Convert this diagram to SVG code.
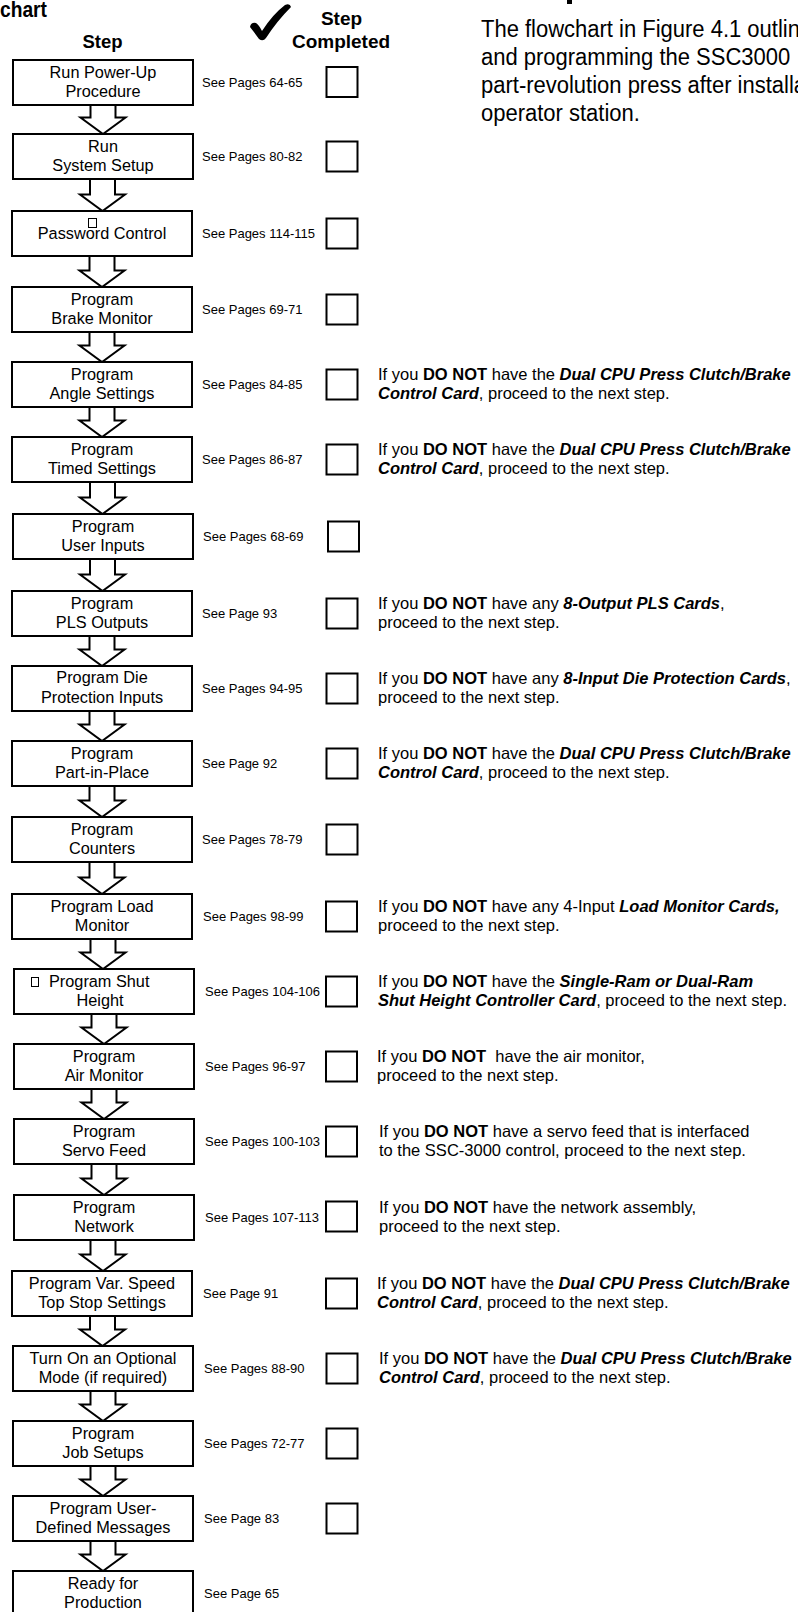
<svg xmlns="http://www.w3.org/2000/svg" width="798" height="1612" viewBox="0 0 798 1612">
<style>
text{font-family:"Liberation Sans",Arial,Helvetica,sans-serif;fill:#000}
.box{fill:#fff;stroke:#000;stroke-width:2}
.chk{fill:#fff;stroke:#000;stroke-width:2}
.tofu{fill:none;stroke:#000;stroke-width:1}
.arr{fill:#fff;stroke:#000;stroke-width:2;stroke-linejoin:miter}
.lbl{font-size:16.3px;text-anchor:middle}
.pg{font-size:13px}
.nt{font-size:16.5px}
.b{font-weight:bold}
.bi{font-weight:bold;font-style:italic}
.hd{font-weight:bold;text-anchor:middle}
.para{font-size:24.5px}
</style>
<rect width="798" height="1612" fill="#fff"/>
<g id="header">
<text x="0" y="16.5" class="b" font-size="22" textLength="47" lengthAdjust="spacingAndGlyphs">chart</text>
<path d="M250,27 Q251,22 256,23 Q259,25 262,31 Q273,14 285,5 Q290,3 291,7 Q277,21 266,38 Q263,42 259,39 Q254,32 250,27 Z" fill="#000"/>
<text x="341.5" y="25" class="hd" font-size="19">Step</text>
<text x="341" y="48" class="hd" font-size="19">Completed</text>
<text x="102.5" y="48" class="hd" font-size="18.5">Step</text>
<rect x="567" y="0" width="5" height="4" fill="#000"/>
<text class="para" transform="translate(481,36.5) scale(0.898,1)">The flowchart in Figure 4.1 outlin</text>
<text class="para" transform="translate(481,65) scale(0.898,1)">and programming the SSC3000</text>
<text class="para" transform="translate(481,93) scale(0.898,1)">part-revolution press after installa</text>
<text class="para" transform="translate(481,121) scale(0.898,1)">operator station.</text>
</g>
<g id="connectors">
<path class="arr" d="M90.5,104 V117.5 H80.5 L103,134 L125.5,117.5 H115.5 V104"/>
<path class="arr" d="M90,178 V194.5 H80 L102.5,211 L125,194.5 H115 V178"/>
<path class="arr" d="M89.5,255 V270.5 H79.5 L102,287 L124.5,270.5 H114.5 V255"/>
<path class="arr" d="M89.5,331 V345.5 H79.5 L102,362 L124.5,345.5 H114.5 V331"/>
<path class="arr" d="M89.5,406 V420.5 H79.5 L102,437 L124.5,420.5 H114.5 V406"/>
<path class="arr" d="M90,481 V497.5 H80 L102.5,514 L125,497.5 H115 V481"/>
<path class="arr" d="M90,558 V574.5 H80 L102.5,591 L125,574.5 H115 V558"/>
<path class="arr" d="M89.5,635 V649.5 H79.5 L102,666 L124.5,649.5 H114.5 V635"/>
<path class="arr" d="M89.5,710 V724.5 H79.5 L102,741 L124.5,724.5 H114.5 V710"/>
<path class="arr" d="M89.5,785 V800.5 H79.5 L102,817 L124.5,800.5 H114.5 V785"/>
<path class="arr" d="M89.5,861 V877.5 H79.5 L102,894 L124.5,877.5 H114.5 V861"/>
<path class="arr" d="M90.5,938 V952.5 H80.5 L103,969 L125.5,952.5 H115.5 V938"/>
<path class="arr" d="M91.5,1013 V1027.5 H81.5 L104,1044 L126.5,1027.5 H116.5 V1013"/>
<path class="arr" d="M91.5,1088 V1102.5 H81.5 L104,1119 L126.5,1102.5 H116.5 V1088"/>
<path class="arr" d="M91.5,1163 V1178.5 H81.5 L104,1195 L126.5,1178.5 H116.5 V1163"/>
<path class="arr" d="M90.5,1239 V1254.5 H80.5 L103,1271 L125.5,1254.5 H115.5 V1239"/>
<path class="arr" d="M90,1315 V1329.5 H80 L102.5,1346 L125,1329.5 H115 V1315"/>
<path class="arr" d="M90.5,1390 V1404.5 H80.5 L103,1421 L125.5,1404.5 H115.5 V1390"/>
<path class="arr" d="M90.5,1465 V1479.5 H80.5 L103,1496 L125.5,1479.5 H115.5 V1465"/>
<path class="arr" d="M90.5,1540 V1554.5 H80.5 L103,1571 L125.5,1554.5 H115.5 V1540"/>
</g>
<g id="step-01">
<rect class="box" x="13" y="60" width="180" height="45"/>
<text class="lbl" x="103" y="77.5">Run Power-Up</text>
<text class="lbl" x="103" y="97">Procedure</text>
<text class="pg" x="202" y="86.5">See Pages 64-65</text>
<rect class="chk" x="326.5" y="67" width="31" height="30"/>
</g>
<g id="step-02">
<rect class="box" x="13" y="134" width="180" height="45"/>
<text class="lbl" x="103" y="151.5">Run</text>
<text class="lbl" x="103" y="171">System Setup</text>
<text class="pg" x="202" y="160.5">See Pages 80-82</text>
<rect class="chk" x="326.5" y="141.5" width="31" height="30"/>
</g>
<g id="step-03">
<rect class="box" x="12" y="211" width="180" height="45"/>
<rect class="tofu" x="88.5" y="218.5" width="8" height="9"/>
<text class="lbl" x="102" y="239">Password Control</text>
<text class="pg" x="202" y="237.5">See Pages 114-115</text>
<rect class="chk" x="326.5" y="218.5" width="31" height="30"/>
</g>
<g id="step-04">
<rect class="box" x="12" y="287" width="180" height="45"/>
<text class="lbl" x="102" y="304.5">Program</text>
<text class="lbl" x="102" y="324">Brake Monitor</text>
<text class="pg" x="202" y="313.5">See Pages 69-71</text>
<rect class="chk" x="326.5" y="294.5" width="31" height="30"/>
</g>
<g id="step-05">
<rect class="box" x="12" y="362" width="180" height="45"/>
<text class="lbl" x="102" y="379.5">Program</text>
<text class="lbl" x="102" y="399">Angle Settings</text>
<text class="pg" x="202" y="388.5">See Pages 84-85</text>
<rect class="chk" x="326.5" y="369.5" width="31" height="30"/>
<text class="nt" x="378" y="379.5">If you <tspan class="b">DO NOT</tspan> have the <tspan class="bi">Dual CPU Press Clutch/Brake</tspan></text>
<text class="nt" x="378" y="399"><tspan class="bi">Control Card</tspan>, proceed to the next step.</text>
</g>
<g id="step-06">
<rect class="box" x="12" y="437" width="180" height="45"/>
<text class="lbl" x="102" y="454.5">Program</text>
<text class="lbl" x="102" y="474">Timed Settings</text>
<text class="pg" x="202" y="463.5">See Pages 86-87</text>
<rect class="chk" x="326.5" y="444.5" width="31" height="30"/>
<text class="nt" x="378" y="454.5">If you <tspan class="b">DO NOT</tspan> have the <tspan class="bi">Dual CPU Press Clutch/Brake</tspan></text>
<text class="nt" x="378" y="474"><tspan class="bi">Control Card</tspan>, proceed to the next step.</text>
</g>
<g id="step-07">
<rect class="box" x="13" y="514" width="180" height="45"/>
<text class="lbl" x="103" y="531.5">Program</text>
<text class="lbl" x="103" y="551">User Inputs</text>
<text class="pg" x="203" y="540.5">See Pages 68-69</text>
<rect class="chk" x="328" y="521.5" width="31" height="30"/>
</g>
<g id="step-08">
<rect class="box" x="12" y="591" width="180" height="45"/>
<text class="lbl" x="102" y="608.5">Program</text>
<text class="lbl" x="102" y="628">PLS Outputs</text>
<text class="pg" x="202" y="617.5">See Page 93</text>
<rect class="chk" x="326.5" y="598.5" width="31" height="30"/>
<text class="nt" x="378" y="608.5">If you <tspan class="b">DO NOT</tspan> have any <tspan class="bi">8-Output PLS Cards</tspan>,</text>
<text class="nt" x="378" y="628">proceed to the next step.</text>
</g>
<g id="step-09">
<rect class="box" x="12" y="666" width="180" height="45"/>
<text class="lbl" x="102" y="683">Program Die</text>
<text class="lbl" x="102" y="702.5">Protection Inputs</text>
<text class="pg" x="202" y="692.5">See Pages 94-95</text>
<rect class="chk" x="326.5" y="673.5" width="31" height="30"/>
<text class="nt" x="378" y="683.5">If you <tspan class="b">DO NOT</tspan> have any <tspan class="bi">8-Input Die Protection Cards</tspan>,</text>
<text class="nt" x="378" y="703">proceed to the next step.</text>
</g>
<g id="step-10">
<rect class="box" x="12" y="741" width="180" height="45"/>
<text class="lbl" x="102" y="758.5">Program</text>
<text class="lbl" x="102" y="778">Part-in-Place</text>
<text class="pg" x="202" y="767.5">See Page 92</text>
<rect class="chk" x="326.5" y="748.5" width="31" height="30"/>
<text class="nt" x="378" y="758.5">If you <tspan class="b">DO NOT</tspan> have the <tspan class="bi">Dual CPU Press Clutch/Brake</tspan></text>
<text class="nt" x="378" y="778"><tspan class="bi">Control Card</tspan>, proceed to the next step.</text>
</g>
<g id="step-11">
<rect class="box" x="12" y="817" width="180" height="45"/>
<text class="lbl" x="102" y="834.5">Program</text>
<text class="lbl" x="102" y="854">Counters</text>
<text class="pg" x="202" y="843.5">See Pages 78-79</text>
<rect class="chk" x="326.5" y="824.5" width="31" height="30"/>
</g>
<g id="step-12">
<rect class="box" x="12" y="894" width="180" height="45"/>
<text class="lbl" x="102" y="911.5">Program Load</text>
<text class="lbl" x="102" y="931">Monitor</text>
<text class="pg" x="203" y="920.5">See Pages 98-99</text>
<rect class="chk" x="326" y="901.5" width="31" height="30"/>
<text class="nt" x="378" y="911.5">If you <tspan class="b">DO NOT</tspan> have any 4-Input <tspan class="bi">Load Monitor Cards,</tspan></text>
<text class="nt" x="378" y="931">proceed to the next step.</text>
</g>
<g id="step-13">
<rect class="box" x="14" y="969" width="180" height="45"/>
<rect class="tofu" x="31.5" y="977.5" width="7" height="9"/>
<text class="lbl" x="49" y="986.5" style="text-anchor:start">Program Shut</text>
<text class="lbl" x="100" y="1006">Height</text>
<text class="pg" x="205" y="995.5">See Pages 104-106</text>
<rect class="chk" x="326" y="976.5" width="31" height="30"/>
<text class="nt" x="378" y="986.5">If you <tspan class="b">DO NOT</tspan> have the <tspan class="bi">Single-Ram or Dual-Ram</tspan></text>
<text class="nt" x="378" y="1006"><tspan class="bi">Shut Height Controller Card</tspan>, proceed to the next step.</text>
</g>
<g id="step-14">
<rect class="box" x="14" y="1044" width="180" height="45"/>
<text class="lbl" x="104" y="1061.5">Program</text>
<text class="lbl" x="104" y="1081">Air Monitor</text>
<text class="pg" x="205" y="1070.5">See Pages 96-97</text>
<rect class="chk" x="326" y="1051.5" width="31" height="30"/>
<text class="nt" x="377" y="1061.5" style="white-space:pre">If you <tspan class="b">DO NOT</tspan>  have the air monitor,</text>
<text class="nt" x="377" y="1081">proceed to the next step.</text>
</g>
<g id="step-15">
<rect class="box" x="14" y="1119" width="180" height="45"/>
<text class="lbl" x="104" y="1136.5">Program</text>
<text class="lbl" x="104" y="1156">Servo Feed</text>
<text class="pg" x="205" y="1145.5">See Pages 100-103</text>
<rect class="chk" x="326" y="1126.5" width="31" height="30"/>
<text class="nt" x="379" y="1136.5">If you <tspan class="b">DO NOT</tspan> have a servo feed that is interfaced</text>
<text class="nt" x="379" y="1156">to the SSC-3000 control, proceed to the next step.</text>
</g>
<g id="step-16">
<rect class="box" x="14" y="1195" width="180" height="45"/>
<text class="lbl" x="104" y="1212.5">Program</text>
<text class="lbl" x="104" y="1232">Network</text>
<text class="pg" x="205" y="1221.5">See Pages 107-113</text>
<rect class="chk" x="326" y="1201.5" width="31" height="30"/>
<text class="nt" x="379" y="1212.5">If you <tspan class="b">DO NOT</tspan> have the network assembly,</text>
<text class="nt" x="379" y="1232">proceed to the next step.</text>
</g>
<g id="step-17">
<rect class="box" x="12" y="1271" width="180" height="45"/>
<text class="lbl" x="102" y="1288.5">Program Var. Speed</text>
<text class="lbl" x="102" y="1308">Top Stop Settings</text>
<text class="pg" x="203" y="1297.5">See Page 91</text>
<rect class="chk" x="326" y="1278.5" width="31" height="30"/>
<text class="nt" x="377" y="1288.5">If you <tspan class="b">DO NOT</tspan> have the <tspan class="bi">Dual CPU Press Clutch/Brake</tspan></text>
<text class="nt" x="377" y="1308"><tspan class="bi">Control Card</tspan>, proceed to the next step.</text>
</g>
<g id="step-18">
<rect class="box" x="13" y="1346" width="180" height="45"/>
<text class="lbl" x="103" y="1363.5">Turn On an Optional</text>
<text class="lbl" x="103" y="1383">Mode (if required)</text>
<text class="pg" x="204" y="1372.5">See Pages 88-90</text>
<rect class="chk" x="326.5" y="1353.5" width="31" height="30"/>
<text class="nt" x="379" y="1363.5">If you <tspan class="b">DO NOT</tspan> have the <tspan class="bi">Dual CPU Press Clutch/Brake</tspan></text>
<text class="nt" x="379" y="1383"><tspan class="bi">Control Card</tspan>, proceed to the next step.</text>
</g>
<g id="step-19">
<rect class="box" x="13" y="1421" width="180" height="45"/>
<text class="lbl" x="103" y="1438.5">Program</text>
<text class="lbl" x="103" y="1458">Job Setups</text>
<text class="pg" x="204" y="1447.5">See Pages 72-77</text>
<rect class="chk" x="326.5" y="1428.5" width="31" height="30"/>
</g>
<g id="step-20">
<rect class="box" x="13" y="1496" width="180" height="45"/>
<text class="lbl" x="103" y="1513.5">Program User-</text>
<text class="lbl" x="103" y="1533">Defined Messages</text>
<text class="pg" x="204" y="1522.5">See Page 83</text>
<rect class="chk" x="326.5" y="1503.5" width="31" height="30"/>
</g>
<g id="step-21">
<rect class="box" x="13" y="1571" width="180" height="50"/>
<text class="lbl" x="103" y="1588.5">Ready for</text>
<text class="lbl" x="103" y="1608">Production</text>
<text class="pg" x="204" y="1597.5">See Page 65</text>
</g>
</svg>
